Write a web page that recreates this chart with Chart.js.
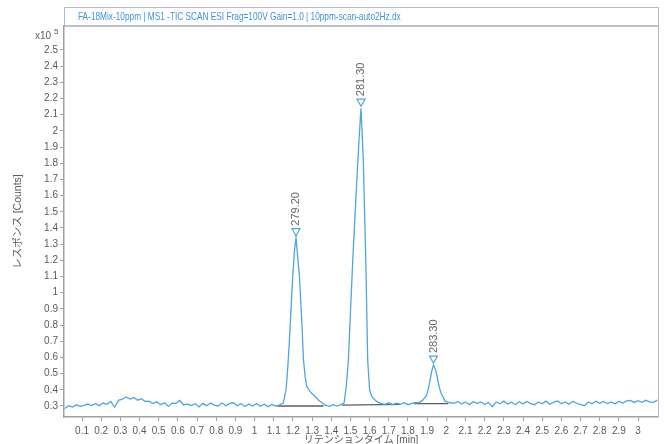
<!DOCTYPE html>
<html>
<head>
<meta charset="utf-8">
<script src="https://cdn.jsdelivr.net/npm/chart.js@4.4.1/dist/chart.umd.min.js"></script>
<style>
  html, body { margin: 0; padding: 0; background: #fff; }
  canvas { display: block; }
</style>
</head>
<body>
<canvas id="ticChart" width="664" height="444"></canvas>
<script>
// retention time [min] and response [x10^5 counts] of the TIC trace
const times = [
  0.01, 0.03, 0.05, 0.07, 0.09, 0.11, 0.13, 0.15, 0.17, 0.19,
  0.21, 0.23, 0.25, 0.27, 0.29, 0.31, 0.33, 0.35, 0.37, 0.39,
  0.41, 0.43, 0.45, 0.47, 0.49, 0.51, 0.53, 0.55, 0.57, 0.59,
  0.61, 0.63, 0.65, 0.67, 0.69, 0.71, 0.73, 0.75, 0.77, 0.79,
  0.81, 0.83, 0.85, 0.87, 0.89, 0.91, 0.93, 0.95, 0.97, 0.99,
  1.01, 1.03, 1.05, 1.07, 1.09, 1.11, 1.13,
  1.15, 1.164, 1.172, 1.181, 1.19, 1.199, 1.208, 1.216, 1.225, 1.234,
  1.246, 1.255, 1.264, 1.272, 1.289, 1.30, 1.315, 1.33, 1.341, 1.355,
  1.37, 1.39, 1.41, 1.43, 1.45,
  1.467, 1.478, 1.489, 1.50, 1.512, 1.53, 1.545, 1.555, 1.567, 1.58,
  1.59, 1.60, 1.61, 1.625, 1.64, 1.66,
  1.68, 1.70, 1.72, 1.74, 1.76, 1.78, 1.80, 1.82, 1.84,
  1.855, 1.87, 1.88, 1.89, 1.898, 1.907, 1.915, 1.925, 1.933, 1.94,
  1.945, 1.952, 1.959, 1.967, 1.976, 1.985, 1.993, 2.005, 2.02,
  2.04, 2.06, 2.08, 2.10, 2.12, 2.14, 2.16, 2.18, 2.20, 2.22,
  2.24, 2.26, 2.28, 2.30, 2.32, 2.34, 2.36, 2.38, 2.40, 2.42,
  2.44, 2.46, 2.48, 2.50, 2.52, 2.54, 2.56, 2.58, 2.60, 2.62,
  2.64, 2.66, 2.68, 2.70, 2.72, 2.74, 2.76, 2.78, 2.80, 2.82,
  2.84, 2.86, 2.88, 2.90, 2.92, 2.94, 2.96, 2.98, 3.00, 3.02,
  3.04, 3.06, 3.08, 3.10
];
const counts = [
  0.285, 0.302, 0.294, 0.306, 0.298, 0.304, 0.312, 0.303, 0.314, 0.302,
  0.318, 0.310, 0.328, 0.292, 0.335, 0.342, 0.356, 0.343, 0.352, 0.336,
  0.345, 0.328, 0.330, 0.315, 0.326, 0.308, 0.320, 0.297, 0.318, 0.316,
  0.334, 0.306, 0.312, 0.303, 0.314, 0.294, 0.316, 0.302, 0.318, 0.305,
  0.300, 0.318, 0.302, 0.316, 0.320, 0.302, 0.314, 0.297, 0.312, 0.300,
  0.315, 0.298, 0.311, 0.296, 0.309, 0.300, 0.306,
  0.320, 0.400, 0.520, 0.690, 0.900, 1.100, 1.260, 1.340, 1.220, 1.100,
  0.830, 0.585, 0.480, 0.420, 0.390, 0.375, 0.360, 0.340, 0.330, 0.315,
  0.305, 0.298, 0.308, 0.299, 0.308,
  0.320, 0.420, 0.580, 0.880, 1.200, 1.620, 1.950, 2.140, 1.820, 1.200,
  0.580, 0.400, 0.360, 0.340, 0.325, 0.315,
  0.310, 0.320, 0.308, 0.317, 0.310, 0.320, 0.308, 0.316, 0.320,
  0.320, 0.330, 0.340, 0.355, 0.370, 0.410, 0.460, 0.520, 0.553, 0.535,
  0.520, 0.480, 0.440, 0.400, 0.370, 0.350, 0.330, 0.325, 0.320,
  0.316, 0.328, 0.312, 0.325, 0.308, 0.327, 0.315, 0.325, 0.311, 0.322,
  0.296, 0.325, 0.314, 0.330, 0.312, 0.323, 0.308, 0.326, 0.313, 0.328,
  0.315, 0.308, 0.325, 0.314, 0.330, 0.311, 0.324, 0.331, 0.314, 0.325,
  0.311, 0.329, 0.317, 0.308, 0.302, 0.325, 0.314, 0.329, 0.317, 0.328,
  0.315, 0.325, 0.312, 0.329, 0.318, 0.331, 0.334, 0.322, 0.333, 0.323,
  0.335, 0.326, 0.322, 0.336
];

// integration baselines under each peak
const baseStartT = [1.12, 1.455, 1.83];
const baseStartV = [0.300, 0.305, 0.315];
const baseEndT = [1.36, 1.76, 2.01];
const baseEndV = [0.300, 0.310, 0.315];

// peak apex and m/z labels
const peakTimes = [1.216, 1.555, 1.933];
const peakHeights = [1.34, 2.14, 0.553];
const peakLabels = ['279.20', '281.30', '283.30'];

const chartTitle = 'FA-18Mix-10ppm | MS1 -TIC SCAN ESI Frag=100V Gain=1.0 | 10ppm-scan-auto2Hz.dx';
const xTitle = 'リテンションタイム [min]';
const yTitle = 'レスポンス [Counts]';

const FONT = "'Liberation Sans', 'Noto Sans CJK JP', sans-serif";
const TRACE = '#4ea6e0';
const TEXT = '#5a5a5a';
const FRAME = '#b4b8c8';

const baselineSets = baseStartT.map((t, i) => ({
    data: [{x: t, y: baseStartV[i]}, {x: baseEndT[i], y: baseEndV[i]}],
    borderColor: '#5c5c5c',
    borderWidth: 1.3,
    pointRadius: 0,
    order: 2
}));

const decorPlugin = {
    id: 'decor',
    afterDraw(chart) {
        const ctx = chart.ctx;
        const area = chart.chartArea;
        const xs = chart.scales.x;
        const ys = chart.scales.y;
        ctx.save();
        // title box and frame
        ctx.strokeStyle = FRAME;
        ctx.lineWidth = 1;
        ctx.beginPath();
        ctx.moveTo(area.left + 0.5, 7.5);
        ctx.lineTo(area.right + 0.5, 7.5);
        ctx.lineTo(area.right + 0.5, area.bottom);
        ctx.stroke();
        ctx.beginPath();
        ctx.moveTo(area.left + 0.5, 7);
        ctx.lineTo(area.left + 0.5, area.top);
        ctx.stroke();
        ctx.strokeStyle = '#a8acb8';
        ctx.lineWidth = 1.5;
        ctx.beginPath();
        ctx.moveTo(area.left, area.top);
        ctx.lineTo(area.right, area.top);
        ctx.stroke();

        ctx.save();
        ctx.translate(78, 17);
        ctx.scale(0.72, 1);
        ctx.fillStyle = '#3f93d8';
        ctx.font = '11.5px ' + FONT;
        ctx.textBaseline = 'middle';
        ctx.textAlign = 'left';
        ctx.fillText(chartTitle, 0, 0);
        ctx.restore();

        // exponent
        ctx.fillStyle = TEXT;
        ctx.textBaseline = 'middle';
        ctx.font = '10px ' + FONT;
        ctx.textAlign = 'right';
        ctx.fillText('x10', 51, 36);
        ctx.font = '8px ' + FONT;
        ctx.textAlign = 'left';
        ctx.fillText('5', 54, 32);

        // peak markers and labels
        peakTimes.forEach((t, i) => {
            const px = xs.getPixelForValue(t);
            const py = ys.getPixelForValue(peakHeights[i]);
            ctx.strokeStyle = TRACE;
            ctx.fillStyle = '#fff';
            ctx.lineWidth = 1.2;
            ctx.beginPath();
            ctx.moveTo(px - 4, py - 9);
            ctx.lineTo(px + 4, py - 9);
            ctx.lineTo(px, py - 2);
            ctx.closePath();
            ctx.fill();
            ctx.stroke();
            ctx.save();
            ctx.translate(px, py - 12);
            ctx.rotate(-Math.PI / 2);
            ctx.fillStyle = '#666';
            ctx.font = '11px ' + FONT;
            ctx.textAlign = 'left';
            ctx.textBaseline = 'middle';
            ctx.fillText(peakLabels[i], 0, 0);
            ctx.restore();
        });
        ctx.restore();
    }
};

const tickFmt = v => String(Math.round(v * 10) / 10);

new Chart(document.getElementById('ticChart'), {
    type: 'line',
    data: {
        datasets: [{
            data: times.map((t, i) => ({x: t, y: counts[i]})),
            borderColor: TRACE,
            borderWidth: 1.3,
            pointRadius: 0,
            tension: 0,
            order: 1
        }, ...baselineSets]
    },
    options: {
        responsive: false,
        animation: false,
        layout: { padding: { top: 26, right: 6, left: 0, bottom: 0 } },
        plugins: { legend: { display: false }, tooltip: { enabled: false } },
        scales: {
            x: {
                type: 'linear',
                min: 0.006,
                max: 3.104,
                afterFit: s => { s.height = 27; },
                afterBuildTicks: s => { s.ticks = s.ticks.filter(t => t.value < 3.05); },
                ticks: {
                    stepSize: 0.1,
                    includeBounds: false,
                    autoSkip: false,
                    maxRotation: 0,
                    padding: 4,
                    color: TEXT,
                    font: { family: FONT, size: 10 },
                    callback: tickFmt
                },
                grid: { drawOnChartArea: false, tickLength: 4, color: '#a0a0a0' },
                border: { color: '#a0a0a0', width: 1.5 },
                title: { display: true, text: xTitle, color: TEXT, font: { family: FONT, size: 10 }, padding: { top: 0, bottom: -2 } }
            },
            y: {
                min: 0.232,
                max: 2.648,
                afterFit: s => { s.width = 64; },
                afterBuildTicks: s => { s.ticks = s.ticks.filter(t => t.value < 2.55); },
                ticks: {
                    stepSize: 0.1,
                    includeBounds: false,
                    padding: 2,
                    color: TEXT,
                    font: { family: FONT, size: 10 },
                    callback: tickFmt
                },
                grid: { drawOnChartArea: false, tickLength: 4, color: '#a0a0a0' },
                border: { color: '#a0a0a0', width: 1.5 },
                title: { display: true, text: yTitle, color: TEXT, font: { family: FONT, size: 10.5 }, padding: { top: 12, bottom: 0 } }
            }
        }
    },
    plugins: [decorPlugin]
});
</script>
</body>
</html>
